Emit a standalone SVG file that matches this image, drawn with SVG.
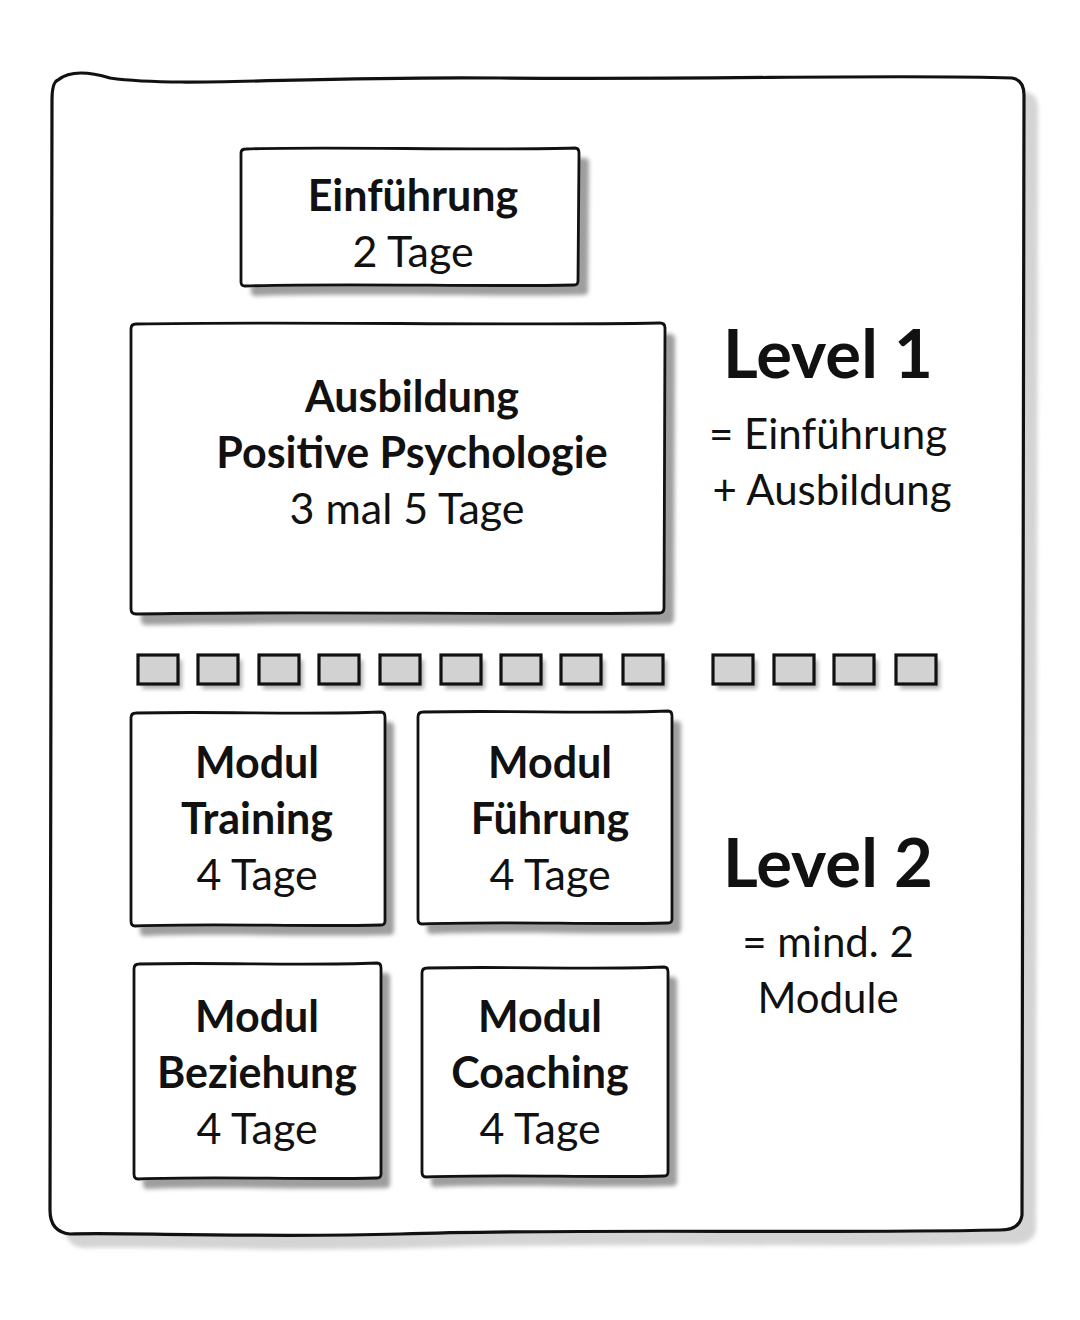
<svg xmlns="http://www.w3.org/2000/svg" width="1080" height="1320" viewBox="0 0 1080 1320">
<defs>
<filter id="blur" x="-10%" y="-10%" width="120%" height="120%"><feGaussianBlur stdDeviation="2"/></filter>
<style>
.frame{fill:#fff;stroke:#111;stroke-width:3.2;stroke-linejoin:round}
.box{fill:#fff;stroke:#111;stroke-width:2.8;stroke-linejoin:round}
.shadow{fill:#9e9e9e;filter:url(#blur)}
.oshadow{fill:#d4d4d4;filter:url(#blur)}
.sq{fill:#d2d2d2;stroke:#111;stroke-width:3.2}
.sqs{fill:#b0b0b0;filter:url(#blur)}
text{font-family:Lato,"Open Sans","Liberation Sans",sans-serif;fill:#111;text-anchor:middle}
.b{font-weight:700;font-size:43px}
.r{font-weight:400;font-size:43px}
.lv{font-weight:700;font-size:67px}
.sd{font-weight:400;font-size:42px}
</style>
</defs>
<rect width="1080" height="1320" fill="#fff"/>
<g id="frame">
<path class="oshadow" transform="translate(14,14)" d="M 58 80 C 70 70, 90 72, 110 78 C 180 88, 300 76, 500 78 C 700 80, 900 74, 1012 78 Q 1024 80 1024 95 L 1022 1215 Q 1020 1230 1000 1230 C 800 1234, 600 1228, 400 1234 C 250 1238, 120 1232, 70 1234 Q 50 1232 50 1210 L 52 100 Q 52 82 58 80 Z"/>
<path class="frame" d="M 58 80 C 70 70, 90 72, 110 78 C 180 88, 300 76, 500 78 C 700 80, 900 74, 1012 78 Q 1024 80 1024 95 L 1022 1215 Q 1020 1230 1000 1230 C 800 1234, 600 1228, 400 1234 C 250 1238, 120 1232, 70 1234 Q 50 1232 50 1210 L 52 100 Q 52 82 58 80 Z"/>
</g>
<g id="einfuehrung">
<path class="shadow" transform="translate(10,10)" d="M 241 153 Q 241 149 246 149 C 330 146, 480 151, 575 148 Q 579 148 579 153 L 578 281 Q 578 285 574 285 C 480 287, 350 283, 245 286 Q 241 286 241 282 Z"/>
<path class="box" d="M 241 153 Q 241 149 246 149 C 330 146, 480 151, 575 148 Q 579 148 579 153 L 578 281 Q 578 285 574 285 C 480 287, 350 283, 245 286 Q 241 286 241 282 Z"/>
<text class="b" x="413" y="211">Einführung</text>
<text class="r" x="413" y="267">2 Tage</text>
</g>
<g id="ausbildung">
<path class="shadow" transform="translate(10,11)" d="M 131 329 Q 131 324 136 324 C 300 321, 500 326, 660 323 Q 665 323 665 328 L 664 608 Q 664 613 659 613 C 500 615, 300 611, 136 614 Q 131 614 131 609 Z"/>
<path class="box" d="M 131 329 Q 131 324 136 324 C 300 321, 500 326, 660 323 Q 665 323 665 328 L 664 608 Q 664 613 659 613 C 500 615, 300 611, 136 614 Q 131 614 131 609 Z"/>
<text class="b" x="412" y="412">Ausbildung</text>
<text class="b" x="412" y="468">Positive Psychologie</text>
<text class="r" x="407" y="524">3 mal 5 Tage</text>
</g>
<g id="level1">
<text class="lv" x="828" y="378">Level 1</text>
<text class="sd" x="828" y="449">= Einführung</text>
<text class="sd" x="832" y="505">+ Ausbildung</text>
</g>
<g id="separator">
<g transform="translate(4,5)">
<rect class="sqs" x="138" y="655" width="40" height="29"/><rect class="sqs" x="198" y="655" width="40" height="29"/><rect class="sqs" x="259" y="655" width="40" height="29"/><rect class="sqs" x="319" y="655" width="40" height="29"/><rect class="sqs" x="380" y="655" width="40" height="29"/><rect class="sqs" x="441" y="655" width="40" height="29"/><rect class="sqs" x="501" y="655" width="40" height="29"/><rect class="sqs" x="561" y="655" width="40" height="29"/><rect class="sqs" x="623" y="655" width="40" height="29"/><rect class="sqs" x="713" y="655" width="40" height="29"/><rect class="sqs" x="774" y="655" width="40" height="29"/><rect class="sqs" x="834" y="655" width="40" height="29"/><rect class="sqs" x="896" y="655" width="40" height="29"/>
</g>
<rect class="sq" x="138" y="655" width="40" height="29"/><rect class="sq" x="198" y="655" width="40" height="29"/><rect class="sq" x="259" y="655" width="40" height="29"/><rect class="sq" x="319" y="655" width="40" height="29"/><rect class="sq" x="380" y="655" width="40" height="29"/><rect class="sq" x="441" y="655" width="40" height="29"/><rect class="sq" x="501" y="655" width="40" height="29"/><rect class="sq" x="561" y="655" width="40" height="29"/><rect class="sq" x="623" y="655" width="40" height="29"/><rect class="sq" x="713" y="655" width="40" height="29"/><rect class="sq" x="774" y="655" width="40" height="29"/><rect class="sq" x="834" y="655" width="40" height="29"/><rect class="sq" x="896" y="655" width="40" height="29"/>
</g>
<g id="modul-training">
<path class="shadow" transform="translate(9,10)" d="M 131 718 Q 131 713 136 713 C 220 711, 300 715, 381 712 Q 385 712 385 717 L 385 921 Q 385 925 381 925 C 300 927, 220 923, 135 926 Q 131 926 131 921 Z"/>
<path class="box" d="M 131 718 Q 131 713 136 713 C 220 711, 300 715, 381 712 Q 385 712 385 717 L 385 921 Q 385 925 381 925 C 300 927, 220 923, 135 926 Q 131 926 131 921 Z"/>
<text class="b" x="257" y="778">Modul</text>
<text class="b" x="257" y="834">Training</text>
<text class="r" x="257" y="890">4 Tage</text>
</g>
<g id="modul-fuehrung">
<path class="shadow" transform="translate(9,10)" d="M 418 717 Q 418 712 423 712 C 510 710, 590 714, 668 711 Q 672 711 672 716 L 672 919 Q 672 923 668 923 C 590 925, 510 921, 422 924 Q 418 924 418 919 Z"/>
<path class="box" d="M 418 717 Q 418 712 423 712 C 510 710, 590 714, 668 711 Q 672 711 672 716 L 672 919 Q 672 923 668 923 C 590 925, 510 921, 422 924 Q 418 924 418 919 Z"/>
<text class="b" x="550" y="778">Modul</text>
<text class="b" x="550" y="834">Führung</text>
<text class="r" x="550" y="890">4 Tage</text>
</g>
<g id="level2">
<text class="lv" x="828" y="887">Level 2</text>
<text class="sd" x="828" y="957">= mind. 2</text>
<text class="sd" x="828" y="1013">Module</text>
</g>
<g id="modul-beziehung">
<path class="shadow" transform="translate(9,10)" d="M 134 969 Q 134 964 139 964 C 220 962, 300 966, 377 963 Q 381 963 381 968 L 381 1174 Q 381 1178 377 1178 C 300 1180, 220 1176, 138 1179 Q 134 1179 134 1174 Z"/>
<path class="box" d="M 134 969 Q 134 964 139 964 C 220 962, 300 966, 377 963 Q 381 963 381 968 L 381 1174 Q 381 1178 377 1178 C 300 1180, 220 1176, 138 1179 Q 134 1179 134 1174 Z"/>
<text class="b" x="257" y="1032">Modul</text>
<text class="b" x="257" y="1088">Beziehung</text>
<text class="r" x="257" y="1144">4 Tage</text>
</g>
<g id="modul-coaching">
<path class="shadow" transform="translate(9,10)" d="M 422 973 Q 422 968 427 968 C 510 966, 590 970, 664 967 Q 668 967 668 972 L 668 1172 Q 668 1176 664 1176 C 590 1178, 510 1174, 426 1177 Q 422 1177 422 1172 Z"/>
<path class="box" d="M 422 973 Q 422 968 427 968 C 510 966, 590 970, 664 967 Q 668 967 668 972 L 668 1172 Q 668 1176 664 1176 C 590 1178, 510 1174, 426 1177 Q 422 1177 422 1172 Z"/>
<text class="b" x="540" y="1032">Modul</text>
<text class="b" x="540" y="1088">Coaching</text>
<text class="r" x="540" y="1144">4 Tage</text>
</g>
</svg>
